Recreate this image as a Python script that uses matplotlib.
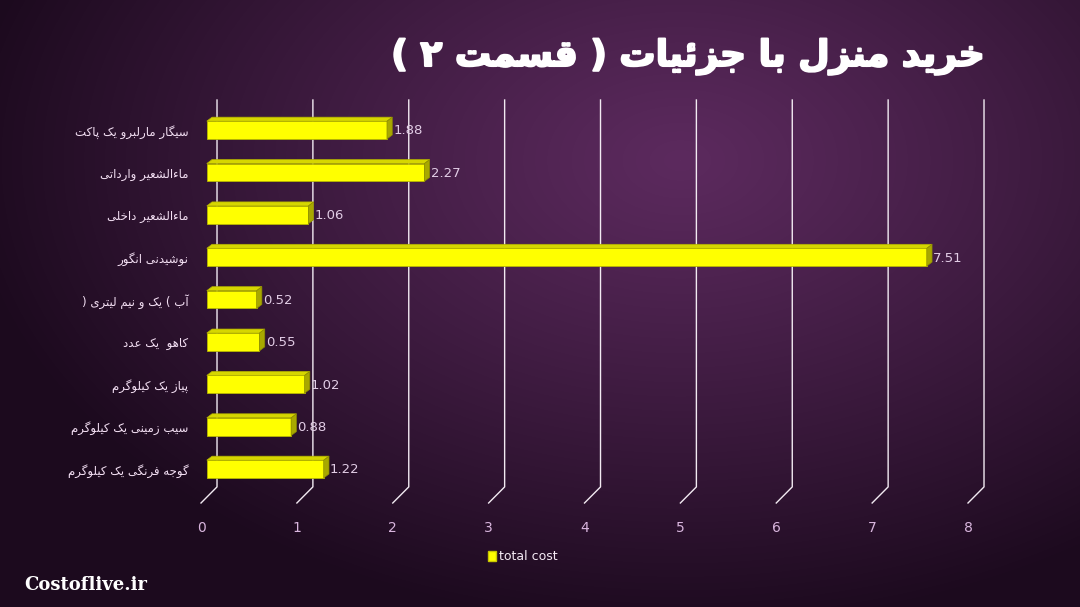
import numpy as np
import matplotlib
matplotlib.use('Agg')
import matplotlib.pyplot as plt
import matplotlib.patheffects as pe
from matplotlib.patches import Polygon, Patch

plt.rcParams['font.family'] = ['DejaVu Sans']

#----------------------------------------
# data (top bar first)
labels = ['سیگار مارلبرو یک پاکت', 'ماءالشعیر وارداتی', 'ماءالشعیر داخلی',
          'نوشیدنی انگور', 'آب ( یک و نیم لیتری )', 'کاهو  یک عدد',
          'پیاز یک کیلوگرم', 'سیب زمینی یک کیلوگرم', 'گوجه فرنگی یک کیلوگرم']
values = [1.88, 2.27, 1.06, 7.51, 0.52, 0.55, 1.02, 0.88, 1.22]
xticks = [0, 1, 2, 3, 4, 5, 6, 7, 8]
series_name = 'total cost'
title = 'خرید منزل با جزئیات ( قسمت ۲ )'

#----------------------------------------
# tiny arabic/persian shaper (matplotlib has no text shaping)
FORMS = {'ء': (0xFE80,), 'آ': (0xFE81, 0xFE82), 'أ': (0xFE83, 0xFE84),
         'ؤ': (0xFE85, 0xFE86), 'إ': (0xFE87, 0xFE88), 'ا': (0xFE8D, 0xFE8E),
         'ة': (0xFE93, 0xFE94), 'د': (0xFEA9, 0xFEAA), 'ذ': (0xFEAB, 0xFEAC),
         'ر': (0xFEAD, 0xFEAE), 'ز': (0xFEAF, 0xFEB0), 'و': (0xFEED, 0xFEEE),
         'ى': (0xFEEF, 0xFEF0), 'ژ': (0xFB8A, 0xFB8B)}
dual = {'ئ': 0xFE89, 'ب': 0xFE8F, 'ت': 0xFE95, 'ث': 0xFE99, 'ج': 0xFE9D,
        'ح': 0xFEA1, 'خ': 0xFEA5, 'س': 0xFEB1, 'ش': 0xFEB5, 'ص': 0xFEB9,
        'ض': 0xFEBD, 'ط': 0xFEC1, 'ظ': 0xFEC5, 'ع': 0xFEC9, 'غ': 0xFECD,
        'ف': 0xFED1, 'ق': 0xFED5, 'ك': 0xFED9, 'ل': 0xFEDD, 'م': 0xFEE1,
        'ن': 0xFEE5, 'ه': 0xFEE9, 'ي': 0xFEF1, 'پ': 0xFB56, 'چ': 0xFB7A,
        'ک': 0xFB8E, 'گ': 0xFB92, 'ی': 0xFBFC}
for k, v in dual.items():
    FORMS[k] = (v, v + 1, v + 2, v + 3)
LAM_ALEF = {'ا': (0xFEFB, 0xFEFC), 'آ': (0xFEF5, 0xFEF6)}


def rtl(s, mirror=True):
    out = []
    i = 0
    n = len(s)
    while i < n:
        c = s[i]
        f = FORMS.get(c)
        if f is None:
            out.append(c)
            i += 1
            continue
        prev_ok = i > 0 and len(FORMS.get(s[i - 1], ())) == 4 and len(f) >= 2
        if c == 'ل' and i + 1 < n and s[i + 1] in LAM_ALEF:
            iso, fin = LAM_ALEF[s[i + 1]]
            out.append(chr(fin if prev_ok else iso))
            i += 2
            continue
        next_ok = len(f) == 4 and i + 1 < n and len(FORMS.get(s[i + 1], ())) >= 2
        if prev_ok and next_ok:
            out.append(chr(f[3]))
        elif prev_ok:
            out.append(chr(f[1]))
        elif next_ok:
            out.append(chr(f[2]))
        else:
            out.append(chr(f[0]))
        i += 1
    res = ''.join(out)[::-1]
    if mirror:
        res = res.translate(str.maketrans('()', ')('))
    return res


#----------------------------------------
W, H = 1080, 607
fig = plt.figure(figsize=(W / 100, H / 100), dpi=100)

# purple background, lighter in the upper middle
bg = fig.add_axes([0, 0, 1, 1], zorder=-5)
yy, xx = np.mgrid[0:H, 0:W]
d = np.sqrt(((xx - 680) / 720.0) ** 2 + ((yy - 160) / 470.0) ** 2)
t = np.clip(d, 0, 1) ** 1.1
c0 = np.array([0x5c, 0x2a, 0x5e]) / 255.0
c1 = np.array([0x1c, 0x0a, 0x1e]) / 255.0
img = c0[None, None, :] * (1 - t[..., None]) + c1[None, None, :] * t[..., None]
bg.imshow(img, aspect='auto', extent=[0, 1, 0, 1], origin='upper')
bg.set_xlim(0, 1)
bg.set_ylim(0, 1)
bg.axis('off')

ax = fig.add_axes([201 / W, 1 - 503 / H, 767 / W, 403 / H])
ax.set_facecolor('none')
ax.set_xlim(0, 8)
ax.set_ylim(8.8, -0.71)
for s in ax.spines.values():
    s.set_visible(False)

pos = np.arange(len(values))
shift = 0.06      # bars sit in front of the back wall
h = 0.42          # bar thickness
dx, dy = 0.055, 0.095   # depth of the 3d faces
back = 0.167      # back wall offset of the gridlines
floor = 8.42

for x in xticks:
    ax.plot([x + back, x + back, x], [-0.71, floor, 8.8], color='#f2eaf2',
            lw=1.0, zorder=1, clip_on=False)

ax.barh(pos, values, height=h, left=shift, color='#ffff00',
        edgecolor='#b8b800', linewidth=0.6, zorder=3)
for p, v in zip(pos, values):
    top = [(shift, p - h / 2), (shift + v, p - h / 2),
           (shift + v + dx, p - h / 2 - dy), (shift + dx, p - h / 2 - dy)]
    side = [(shift + v, p - h / 2), (shift + v + dx, p - h / 2 - dy),
            (shift + v + dx, p + h / 2 - dy), (shift + v, p + h / 2)]
    ax.add_patch(Polygon(top, closed=True, facecolor='#d6d600',
                         edgecolor='#b0b000', lw=0.5, zorder=4))
    ax.add_patch(Polygon(side, closed=True, facecolor='#a8a800',
                         edgecolor='#8c8c00', lw=0.5, zorder=4))
    ax.text(shift + v + dx + 0.01, p + 0.02, '%.2f' % v, color='#e2cde6',
            fontsize=9.5, va='center', ha='left', zorder=5)

ax.set_yticks(pos)
ax.set_yticklabels([rtl(l, mirror=False) for l in labels], fontsize=8.5,
                   color='#f3dff3')
ax.set_xticks(xticks)
ax.set_xticklabels([str(x) for x in xticks], fontsize=10, color='#d9b6de',
                   family=['Liberation Sans Narrow', 'DejaVu Sans'])
ax.tick_params(axis='y', length=0, pad=9)
ax.tick_params(axis='x', length=0, pad=13)

fig.legend(handles=[Patch(facecolor='#ffff00', edgecolor='#c8c800')],
           labels=[series_name], loc='center', bbox_to_anchor=(523 / W, 1 - 557 / H),
           frameon=False, handlelength=0.6, handleheight=0.8, handletextpad=0.3,
           fontsize=9, labelcolor='#f4eaf4')

fig.text(985 / W, 1 - 57 / H, rtl(title), ha='right', va='center', fontsize=26,
         weight='bold', color='white',
         path_effects=[pe.withStroke(linewidth=1.5, foreground='white')])
fig.text(24 / W, 1 - 585 / H, 'Costoflive.ir', ha='left', va='center',
         fontsize=13, weight='bold', color='white', family='DejaVu Serif')

plt.savefig('out.png', dpi=100)
